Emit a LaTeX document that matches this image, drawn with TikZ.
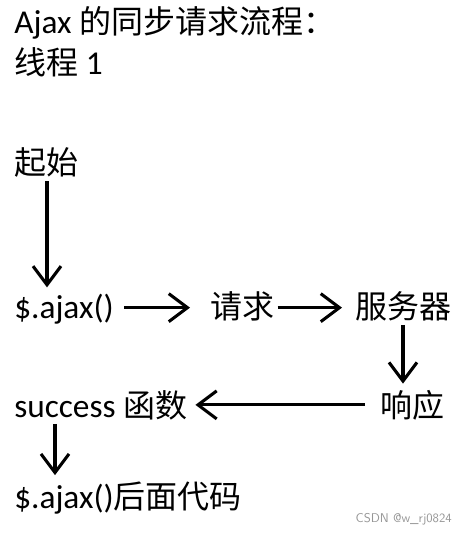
\documentclass[tikz,border=0pt]{standalone}
\usepackage{fontspec}
\setmainfont{Carlito}
\newfontfamily\cjk[Scale=0.96]{Noto Sans CJK SC}
\usetikzlibrary{arrows.meta,calc,positioning}
\definecolor{MarkGray}{RGB}{150,150,150}

\begin{document}
\begin{tikzpicture}[x=0.75pt,y=-0.75pt,
  txt/.style={anchor=base west,inner sep=0pt,font=\fontsize{25}{30}\selectfont},
  flow/.style={line width=2.3pt,-{Straight Barb[length=14pt,width=21pt,line width=2.3pt]}}]
\useasboundingbox (0,0) rectangle (465,533);
% texts
\node[txt] (title) at (14,33) {Ajax {\cjk 的同步请求流程：}};
\node[txt] (thread) at (14,74) {{\cjk 线程} 1};
\node[txt] (start) at (14,174) {\cjk 起始};
\node[txt] (ajax) at (14,318) {\$.ajax()};
\node[txt] (req) at (210,318) {\cjk 请求};
\node[txt] (server) at (355,318) {\cjk 服务器};
\node[txt] (resp) at (380,417) {\cjk 响应};
\node[txt] (succ) at (14,417) {success {\cjk 函数}};
\node[txt] (after) at (14,508) {\$.ajax(){\cjk 后面代码}};
\node[anchor=base east,inner sep=0pt,text=MarkGray,font=\fontsize{9.5}{11}\sffamily] (mark) at (452,522) {CSDN @w\_rj0824};
% arrows
\draw[flow] ($(start.south west)+(33,4)$) -- ($(ajax.north west)+(33,-6)$);
\draw[flow] ($(ajax.east)+(10,-1)$) -- ($(req.west |- ajax.east)+(-20,-1)$);
\draw[flow] ($(req.east |- ajax.east)+(3,-1)$) -- ($(server.west |- ajax.east)+(-13,-1)$);
\draw[flow] ($(server.south west)+(48,4)$) -- ($(resp.north west)+(23,-6)$);
\draw[flow] ($(resp.west |- succ.east)+(-15,0)$) -- ($(succ.east)+(8,0)$);
\draw[flow] ($(succ.south west)+(41,4)$) -- ($(after.north west)+(41,-6)$);
\end{tikzpicture}
\end{document}
